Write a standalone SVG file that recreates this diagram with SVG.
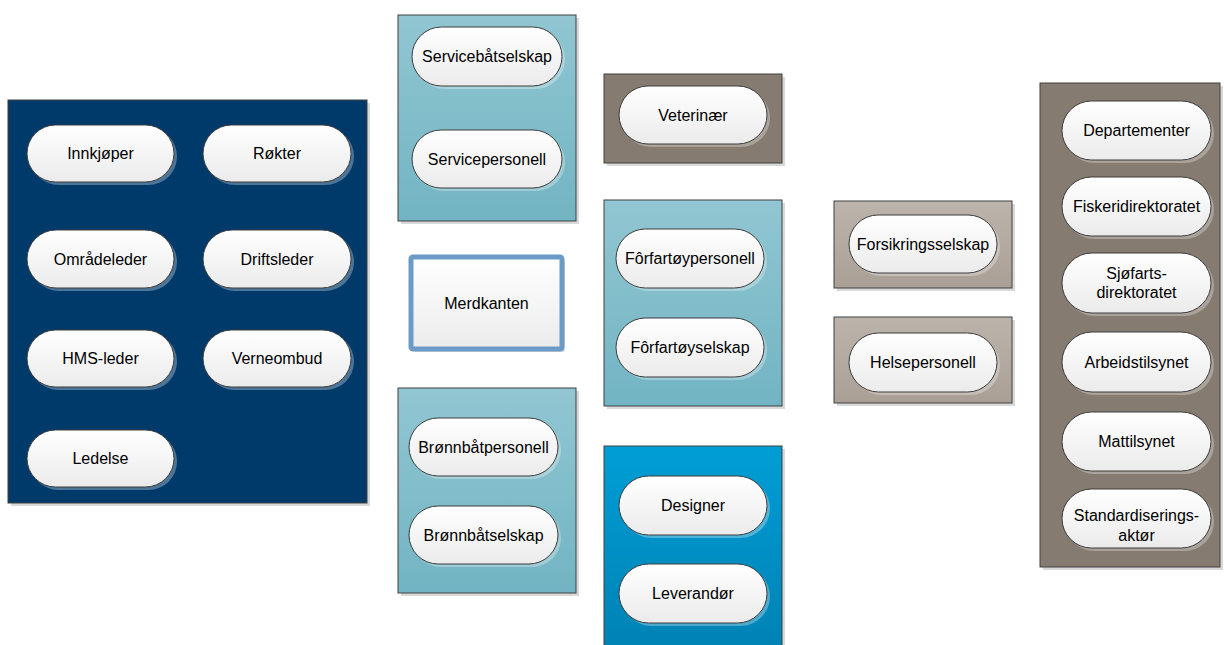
<svg xmlns="http://www.w3.org/2000/svg" width="1224" height="645" viewBox="0 0 1224 645">
<defs>
<linearGradient id="gPill" x1="0" y1="0" x2="0" y2="1"><stop offset="0" stop-color="#ffffff"/><stop offset="1" stop-color="#ebebeb"/></linearGradient>
<linearGradient id="gTeal" x1="0" y1="0" x2="0" y2="1"><stop offset="0" stop-color="#91c6d2"/><stop offset="1" stop-color="#72b4c3"/></linearGradient>
<linearGradient id="gLight" x1="0" y1="0" x2="0" y2="1"><stop offset="0" stop-color="#bcb4ac"/><stop offset="1" stop-color="#a99f95"/></linearGradient>
<linearGradient id="gBlue" x1="0" y1="0" x2="0" y2="1"><stop offset="0" stop-color="#009ed6"/><stop offset="1" stop-color="#0081b3"/></linearGradient>
</defs>
<style>
.box{stroke:#404040;stroke-width:1}
.bshadow{fill:#d9d9d9}
.navy{fill:#003a6b}
.teal{fill:url(#gTeal)}
.brown{fill:#857b70}
.light{fill:url(#gLight)}
.blue{fill:url(#gBlue)}
.pill{fill:url(#gPill);stroke:#3c3c3c;stroke-width:1}
.pshadow{fill:#ffffff;fill-opacity:0.3}
.t{font-family:"Liberation Sans",Arial,sans-serif;font-size:16px;fill:#000;text-anchor:middle}
</style>

<g id="group-internal">
<rect class="bshadow" x="11" y="103" width="359" height="403"/>
<rect class="box navy" x="8" y="100" width="359" height="403"/>
</g>
<g id="node-innkjoper"><rect class="pshadow" x="30" y="128" width="147" height="57" rx="28.5"/><rect class="pill" x="27" y="125" width="147" height="57" rx="28.5"/><text class="t" x="100.5" y="159">Innkjøper</text></g>
<g id="node-rokter"><rect class="pshadow" x="206" y="128" width="148" height="57" rx="28.5"/><rect class="pill" x="203" y="125" width="148" height="57" rx="28.5"/><text class="t" x="277" y="159">Røkter</text></g>
<g id="node-omradeleder"><rect class="pshadow" x="30" y="233" width="147" height="58" rx="29"/><rect class="pill" x="27" y="230" width="147" height="58" rx="29"/><text class="t" x="100.5" y="264.5">Områdeleder</text></g>
<g id="node-driftsleder"><rect class="pshadow" x="206" y="233" width="148" height="58" rx="29"/><rect class="pill" x="203" y="230" width="148" height="58" rx="29"/><text class="t" x="277" y="264.5">Driftsleder</text></g>
<g id="node-hms"><rect class="pshadow" x="30" y="333" width="147" height="57" rx="28.5"/><rect class="pill" x="27" y="330" width="147" height="57" rx="28.5"/><text class="t" x="100.5" y="364">HMS-leder</text></g>
<g id="node-verneombud"><rect class="pshadow" x="206" y="333" width="148" height="57" rx="28.5"/><rect class="pill" x="203" y="330" width="148" height="57" rx="28.5"/><text class="t" x="277" y="364">Verneombud</text></g>
<g id="node-ledelse"><rect class="pshadow" x="30" y="433" width="147" height="57" rx="28.5"/><rect class="pill" x="27" y="430" width="147" height="57" rx="28.5"/><text class="t" x="100.5" y="464">Ledelse</text></g>

<g id="group-service">
<rect class="bshadow" x="401" y="18" width="178" height="206"/>
<rect class="box teal" x="398" y="15" width="178" height="206"/>
</g>
<g id="node-servicebatselskap"><rect class="pshadow" x="415" y="30" width="150" height="59" rx="29.5"/><rect class="pill" x="412" y="27" width="150" height="59" rx="29.5"/><text class="t" x="487" y="62">Servicebåtselskap</text></g>
<g id="node-servicepersonell"><rect class="pshadow" x="415" y="133" width="150" height="58" rx="29"/><rect class="pill" x="412" y="130" width="150" height="58" rx="29"/><text class="t" x="487" y="164.5">Servicepersonell</text></g>

<g id="node-merdkanten">
<rect class="bshadow" x="414" y="260" width="151" height="92" rx="2"/>
<rect x="411" y="257" width="151" height="92" rx="2" fill="url(#gPill)" stroke="#6c9bc8" stroke-width="5"/>
<text class="t" x="486.5" y="309">Merdkanten</text>
</g>

<g id="group-bronnbat">
<rect class="bshadow" x="401" y="391" width="178" height="205"/>
<rect class="box teal" x="398" y="388" width="178" height="205"/>
</g>
<g id="node-bronnbatpersonell"><rect class="pshadow" x="412" y="421" width="149" height="58" rx="29"/><rect class="pill" x="409" y="418" width="149" height="58" rx="29"/><text class="t" x="483.5" y="452.5">Brønnbåtpersonell</text></g>
<g id="node-bronnbatselskap"><rect class="pshadow" x="412" y="509" width="149" height="58" rx="29"/><rect class="pill" x="409" y="506" width="149" height="58" rx="29"/><text class="t" x="483.5" y="540.5">Brønnbåtselskap</text></g>

<g id="group-veterinaer">
<rect class="bshadow" x="607" y="77" width="178" height="89"/>
<rect class="box brown" x="604" y="74" width="178" height="89"/>
</g>
<g id="node-veterinaer"><rect class="pshadow" x="622" y="89" width="148" height="58" rx="29"/><rect class="pill" x="619" y="86" width="148" height="58" rx="29"/><text class="t" x="693" y="120.5">Veterinær</text></g>

<g id="group-forfartoy">
<rect class="bshadow" x="607" y="203" width="178" height="206"/>
<rect class="box teal" x="604" y="200" width="178" height="206"/>
</g>
<g id="node-forfartoypersonell"><rect class="pshadow" x="619" y="232" width="148" height="59" rx="29.5"/><rect class="pill" x="616" y="229" width="148" height="59" rx="29.5"/><text class="t" x="690" y="264">Fôrfartøypersonell</text></g>
<g id="node-forfartoyselskap"><rect class="pshadow" x="619" y="321" width="148" height="59" rx="29.5"/><rect class="pill" x="616" y="318" width="148" height="59" rx="29.5"/><text class="t" x="690" y="353">Fôrfartøyselskap</text></g>

<g id="group-leverandor">
<rect class="bshadow" x="607" y="449" width="178" height="210"/>
<rect class="box blue" x="604" y="446" width="178" height="210"/>
</g>
<g id="node-designer"><rect class="pshadow" x="622" y="479" width="148" height="59" rx="29.5"/><rect class="pill" x="619" y="476" width="148" height="59" rx="29.5"/><text class="t" x="693" y="511">Designer</text></g>
<g id="node-leverandor"><rect class="pshadow" x="622" y="567" width="148" height="59" rx="29.5"/><rect class="pill" x="619" y="564" width="148" height="59" rx="29.5"/><text class="t" x="693" y="599">Leverandør</text></g>

<g id="group-forsikring">
<rect class="bshadow" x="837" y="204" width="178" height="87"/>
<rect class="box light" x="834" y="201" width="178" height="87"/>
</g>
<g id="node-forsikringsselskap"><rect class="pshadow" x="852" y="218" width="148" height="58" rx="29"/><rect class="pill" x="849" y="215" width="148" height="58" rx="29"/><text class="t" x="923" y="249.5">Forsikringsselskap</text></g>

<g id="group-helse">
<rect class="bshadow" x="837" y="320" width="178" height="86"/>
<rect class="box light" x="834" y="317" width="178" height="86"/>
</g>
<g id="node-helsepersonell"><rect class="pshadow" x="852" y="336" width="148" height="59" rx="29.5"/><rect class="pill" x="849" y="333" width="148" height="59" rx="29.5"/><text class="t" x="923" y="368">Helsepersonell</text></g>

<g id="group-myndigheter">
<rect class="bshadow" x="1043" y="86" width="180" height="484"/>
<rect class="box brown" x="1040" y="83" width="180" height="484"/>
</g>
<g id="node-departementer"><rect class="pshadow" x="1065" y="104" width="149" height="59" rx="29.5"/><rect class="pill" x="1062" y="101" width="149" height="59" rx="29.5"/><text class="t" x="1136.5" y="136">Departementer</text></g>
<g id="node-fiskeridirektoratet"><rect class="pshadow" x="1065" y="180" width="149" height="59" rx="29.5"/><rect class="pill" x="1062" y="177" width="149" height="59" rx="29.5"/><text class="t" x="1136.5" y="212">Fiskeridirektoratet</text></g>
<g id="node-sjofartsdirektoratet"><rect class="pshadow" x="1065" y="256" width="149" height="60" rx="30"/><rect class="pill" x="1062" y="253" width="149" height="60" rx="30"/><text class="t" x="1136.5" y="279">Sjøfarts-</text><text class="t" x="1136.5" y="298">direktoratet</text></g>
<g id="node-arbeidstilsynet"><rect class="pshadow" x="1065" y="335" width="149" height="60" rx="30"/><rect class="pill" x="1062" y="332" width="149" height="60" rx="30"/><text class="t" x="1136.5" y="367.5">Arbeidstilsynet</text></g>
<g id="node-mattilsynet"><rect class="pshadow" x="1065" y="415" width="149" height="59" rx="29.5"/><rect class="pill" x="1062" y="412" width="149" height="59" rx="29.5"/><text class="t" x="1136.5" y="447">Mattilsynet</text></g>
<g id="node-standardiseringsaktor"><rect class="pshadow" x="1065" y="492" width="149" height="59" rx="29.5"/><rect class="pill" x="1062" y="489" width="149" height="59" rx="29.5"/><text class="t" x="1136.5" y="521">Standardiserings-</text><text class="t" x="1136.5" y="541">aktør</text></g>

<g id="connectors"></g>
</svg>
